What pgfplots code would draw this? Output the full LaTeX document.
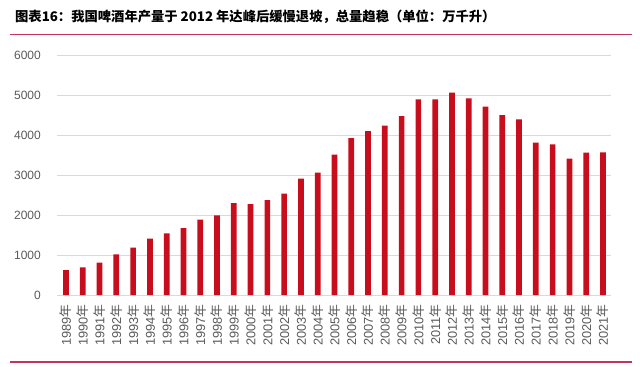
\documentclass[border=0pt]{standalone}
\usepackage{pgfplots}
\pgfplotsset{compat=1.18}
\usepackage{pgfplotstable}
\usepackage{fontspec}
\setmainfont{Liberation Sans}
\newfontfamily\cjk{Noto Sans CJK SC}
\definecolor{barred}{RGB}{200,14,28}
\definecolor{rule}{RGB}{196,52,92}
\definecolor{ticktext}{RGB}{89,89,89}
\definecolor{gridc}{RGB}{217,217,217}
\pgfplotstableread{
x y
0 625
1 690
2 810
3 1017
4 1183
5 1408
6 1542
7 1675
8 1883
9 1992
10 2300
11 2275
12 2375
13 2533
14 2908
15 3058
16 3508
17 3925
18 4100
19 4233
20 4475
21 4892
22 4892
23 5058
24 4917
25 4708
26 4500
27 4392
28 3808
29 3767
30 3408
31 3558
32 3567
}\beerdata
\newcommand{\nian}{{\cjk 年}}
\begin{document}
\begin{tikzpicture}[x=1bp,y=1bp]
\useasboundingbox (0,0) rectangle (640,366);
\node[anchor=west,inner sep=0pt] at (15,349) {\cjk\bfseries\fontsize{13.3bp}{15bp}\selectfont 图表16：我国啤酒年产量于 2012 年达峰后缓慢退坡，总量趋稳（单位：万千升）};
\draw[rule,line width=1.6bp] (10,331.5) -- (632,331.5);
\draw[rule,line width=1.6bp] (10,4) -- (632,4);
\begin{axis}[
  at={(66bp,71bp)}, anchor=origin,
  width=554bp, height=240bp, scale only axis,
  xmin=-0.536, xmax=32.48,
  ymin=0, ymax=6000,
  ytick={0,1000,...,6000},
  xtick={0,...,32},
  xticklabels={1989\nian,1990\nian,1991\nian,1992\nian,1993\nian,1994\nian,1995\nian,1996\nian,1997\nian,1998\nian,1999\nian,2000\nian,2001\nian,2002\nian,2003\nian,2004\nian,2005\nian,2006\nian,2007\nian,2008\nian,2009\nian,2010\nian,2011\nian,2012\nian,2013\nian,2014\nian,2015\nian,2016\nian,2017\nian,2018\nian,2019\nian,2020\nian,2021\nian},
  xticklabel style={rotate=90, anchor=east, font=\fontsize{12.8bp}{13bp}\selectfont, text=ticktext, inner sep=0pt},
  yticklabel style={font=\fontsize{12bp}{13bp}\selectfont, text=ticktext, inner sep=0pt},
  /pgf/number format/assume math mode=true,
  /pgf/number format/1000 sep={},
  axis line style={draw=none},
  major tick length=0pt,
  ymajorgrids, grid style={gridc, line width=0.8bp},
  ybar, bar width=5.7bp,
  yticklabel shift=16bp,
  xticklabel shift=9bp,
]
\addplot[fill=barred, draw=none] table[x=x,y=y] {\beerdata};
\end{axis}
\end{tikzpicture}
\end{document}
